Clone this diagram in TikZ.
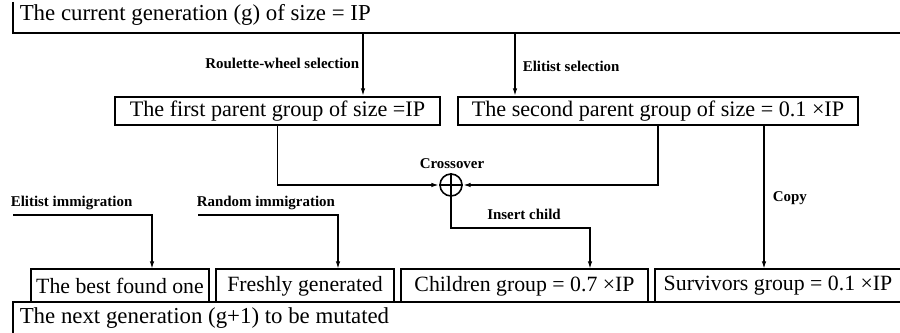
\documentclass[tikz,border=0pt]{standalone}
\usepackage{fontspec}
\setmainfont{Liberation Serif}
\usetikzlibrary{calc,positioning}
\usetikzlibrary{arrows.meta}
\tikzset{
    x=0.02cm, y=-0.02cm, % one unit is one pixel of the original figure
    every path/.style={line width=0.9pt},
    >={Latex[length=4.5pt,width=2.6pt]}, % small filled heads
    group/.style={draw, rectangle, minimum height=0.56cm, inner sep=0pt,
      font=\fontsize{12.6}{14}\selectfont},
    opengroup/.style={rectangle, minimum height=0.64cm, inner sep=0pt,
      font=\fontsize{12.4}{14}\selectfont},
    big/.style={font=\fontsize{13}{15}\selectfont, inner sep=0pt},
    small/.style={font=\fontsize{8.5}{10}\selectfont\bfseries, inner sep=0pt},
}

\begin{document}
\begin{tikzpicture}[]
  \useasboundingbox (0,0) rectangle (900,333);

  % current generation (open box: left and bottom edges)
  \node[big, anchor=west] (g_cur) at (19,15) {The current generation (g) of size = IP};
  \coordinate (g_top) at (13,2);
  \coordinate (g_bot) at (13,33);
  \coordinate (g_end) at (900,33);
  \draw (g_top) -- (g_bot) -- (g_end);

  % parent groups
  \node[group, minimum width=6.5cm] (first)  at (277.5,111) {The first parent group of size =IP};
  \node[group, minimum width=8cm]   (second) at (658,111)   {The second parent group of size = 0.1 ×IP};

  \coordinate (sel_r) at (363,33);
  \coordinate (sel_e) at (515,33);
  \draw[->] (sel_r) -- (sel_r |- first.north);
  \draw[->] (sel_e) -- (sel_e |- second.north);
  \node[small, anchor=east] (lab_r) at (360,63) {Roulette-wheel selection};
  \node[small, anchor=west] (lab_e) at (522,66) {Elitist selection};

  % crossover
  \node[circle, draw, minimum size=0.44cm, inner sep=0pt] (xo) at (451,185) {};
  \draw (xo.north) -- (xo.south) (xo.west) -- (xo.east);
  \node[small] (lab_xo) at (452,164) {Crossover};
  \draw[->] (first.south) |- (xo.west);
  \draw[->] (second.south) |- (xo.east);

  % groups of the next generation (open at the bottom)
  \node[opengroup, minimum width=3.52cm] (best)  at (120,286)   {The best found one};
  \node[opengroup, minimum width=3.52cm] (fresh) at (305,286)   {Freshly generated};
  \node[opengroup, minimum width=4.9cm]  (child) at (524.5,286) {Children group = 0.7 ×IP};
  \node[opengroup, minimum width=4.88cm] (surv)  at (778,286)   {Survivors group = 0.1 ×IP};
  \foreach \b in {best,fresh,child,surv}
    \draw (\b.south west) -- (\b.north west) -- (\b.north east) -- (\b.south east);

  % insert child
  \coordinate (ins) at (590,228);
  \draw[->] (xo.south) |- (ins) -- (ins |- child.north);
  \node[small] (lab_ins) at (524,214) {Insert child};

  % copy
  \coordinate (cp) at (764,125);
  \draw[->] (cp) -- (cp |- surv.north);
  \node[small, anchor=west] (lab_cp) at (772,198) {Copy};

  % immigration
  \coordinate (e_in) at (13,215);
  \coordinate (e_dn) at (152,215);
  \coordinate (r_in) at (198,215);
  \coordinate (r_dn) at (338,215);
  \draw[->] (e_in) -- (e_dn) -- (e_dn |- best.north);
  \draw[->] (r_in) -- (r_dn) -- (r_dn |- fresh.north);
  \node[small, anchor=west] (lab_ei) at (10,203) {Elitist immigration};
  \node[small, anchor=west] (lab_ri) at (196,203) {Random immigration};

  % next generation (open box: left and top edges)
  \coordinate (n_top) at (13,302);
  \coordinate (n_bot) at (13,333);
  \coordinate (n_end) at (900,302);
  \draw (n_bot) -- (n_top) -- (n_end);
  \node[big, anchor=west] (g_next) at (19,318) {The next generation (g+1) to be mutated};
\end{tikzpicture}
\end{document}
